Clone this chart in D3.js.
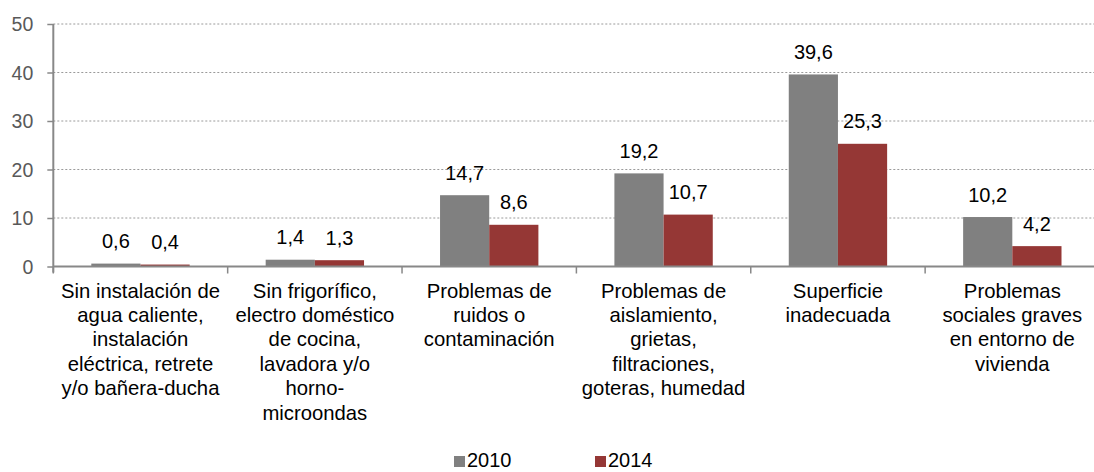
<!DOCTYPE html>
<html>
<head>
<meta charset="utf-8">
<script src="https://cdn.jsdelivr.net/npm/d3@7"></script>
<style>
  html, body { margin: 0; padding: 0; background: #ffffff; }
  svg { display: block; font-family: "Liberation Sans", Arial, sans-serif; }
</style>
</head>
<body>
<svg id="chart" width="1094" height="472"></svg>
<script>
const categories = [
  "Sin instalación de\nagua caliente,\ninstalación\neléctrica, retrete\ny/o bañera-ducha",
  "Sin frigorífico,\nelectro doméstico\nde cocina,\nlavadora y/o\nhorno-\nmicroondas",
  "Problemas de\nruidos o\ncontaminación",
  "Problemas de\naislamiento,\ngrietas,\nfiltraciones,\ngoteras, humedad",
  "Superficie\ninadecuada",
  "Problemas\nsociales graves\nen entorno de\nvivienda"
];
const seriesNames = ["2010", "2014"];
const values2010 = [0.6, 1.4, 14.7, 19.2, 39.6, 10.2];
const values2014 = [0.4, 1.3, 8.6, 10.7, 25.3, 4.2];
const yTicks = [0, 10, 20, 30, 40, 50];
const colors = ["#808080", "#953735"];

const seriesValues = [values2010, values2014];
const fmt = v => d3.format(".1f")(v).replace(".", ",");

const svg = d3.select("#chart");
const plotLeft = 53.3, plotRight = 1099.5, plotTop = 24, plotBottom = 266.5;

const x0 = d3.scaleBand().domain(categories).range([plotLeft, plotRight]).padding(0);
const step = x0.step();
const x1 = d3.scaleBand().domain(seriesNames).range([38, step - 38]).padding(0);
const y = d3.scaleLinear().domain([0, 50]).range([plotBottom, plotTop]);

// gridlines
svg.append("g").selectAll("line").data(yTicks.filter(d => d > 0)).join("line")
  .attr("x1", plotLeft).attr("x2", 1094)
  .attr("y1", d => y(d)).attr("y2", d => y(d))
  .attr("stroke", "#9a9a9a").attr("stroke-width", 1)
  .attr("stroke-dasharray", "2,2");

// bars
const groups = svg.append("g").selectAll("g").data(categories).join("g")
  .attr("transform", d => `translate(${x0(d)},0)`);
groups.selectAll("rect").data((c, i) => seriesNames.map((s, k) => ({s, v: seriesValues[k][i], k})))
  .join("rect")
  .attr("x", d => x1(d.s))
  .attr("width", x1.bandwidth())
  .attr("y", d => y(d.v))
  .attr("height", d => y(0) - y(d.v))
  .attr("fill", d => colors[d.k]);

// value labels
groups.selectAll("text.lbl").data((c, i) => seriesNames.map((s, k) => ({s, v: seriesValues[k][i], k})))
  .join("text").attr("class", "lbl")
  .attr("x", d => x1(d.s) + x1.bandwidth() / 2)
  .attr("y", d => y(d.v) - 15.5)
  .attr("text-anchor", "middle")
  .attr("font-size", 20)
  .attr("fill", "#000")
  .text(d => fmt(d.v));

// y axis
const yAxis = d3.axisLeft(y).tickValues(yTicks).tickSize(6).tickPadding(14).tickFormat(d => d);
const gy = svg.append("g").attr("transform", `translate(${plotLeft},0)`).call(yAxis);
gy.select(".domain").remove();
gy.selectAll(".tick line").attr("stroke", "#888").attr("stroke-width", 1.5);
gy.selectAll(".tick text")
  .attr("font-family", "Liberation Sans, Arial, sans-serif")
  .attr("font-size", 19.5).attr("fill", "#595959").attr("dy", "0.35em");
svg.append("line").attr("x1", plotLeft).attr("x2", plotLeft).attr("y1", plotTop).attr("y2", plotBottom + 6)
  .attr("stroke", "#888").attr("stroke-width", 2);

// x axis
const xTickPos = categories.map(c => x0(c)).concat([plotRight]);
svg.append("g").selectAll("line").data(xTickPos).join("line")
  .attr("x1", d => d).attr("x2", d => d).attr("y1", plotBottom).attr("y2", plotBottom + 7)
  .attr("stroke", "#888").attr("stroke-width", 1.5);
svg.append("line").attr("x1", plotLeft).attr("x2", 1094).attr("y1", plotBottom).attr("y2", plotBottom)
  .attr("stroke", "#888").attr("stroke-width", 2);

// category labels
svg.append("g").selectAll("text").data(categories).join("text")
  .attr("transform", d => `translate(${x0(d) + step / 2},297.5)`)
  .attr("text-anchor", "middle").attr("font-size", 20.3).attr("fill", "#000")
  .selectAll("tspan").data(d => d.split("\n")).join("tspan")
  .attr("x", 0).attr("dy", (d, i) => i === 0 ? 0 : 24.4)
  .text(d => d);

// legend
const legendX = [454, 595];
const leg = svg.append("g").selectAll("g").data(seriesNames).join("g")
  .attr("transform", (d, i) => `translate(${legendX[i]},0)`);
leg.append("rect").attr("x", 0).attr("y", 456).attr("width", 11).attr("height", 11)
  .attr("fill", (d, i) => colors[i]);
leg.append("text").attr("x", 13).attr("y", 467).attr("font-size", 20).attr("fill", "#000").text(d => d);
</script>
</body>
</html>
